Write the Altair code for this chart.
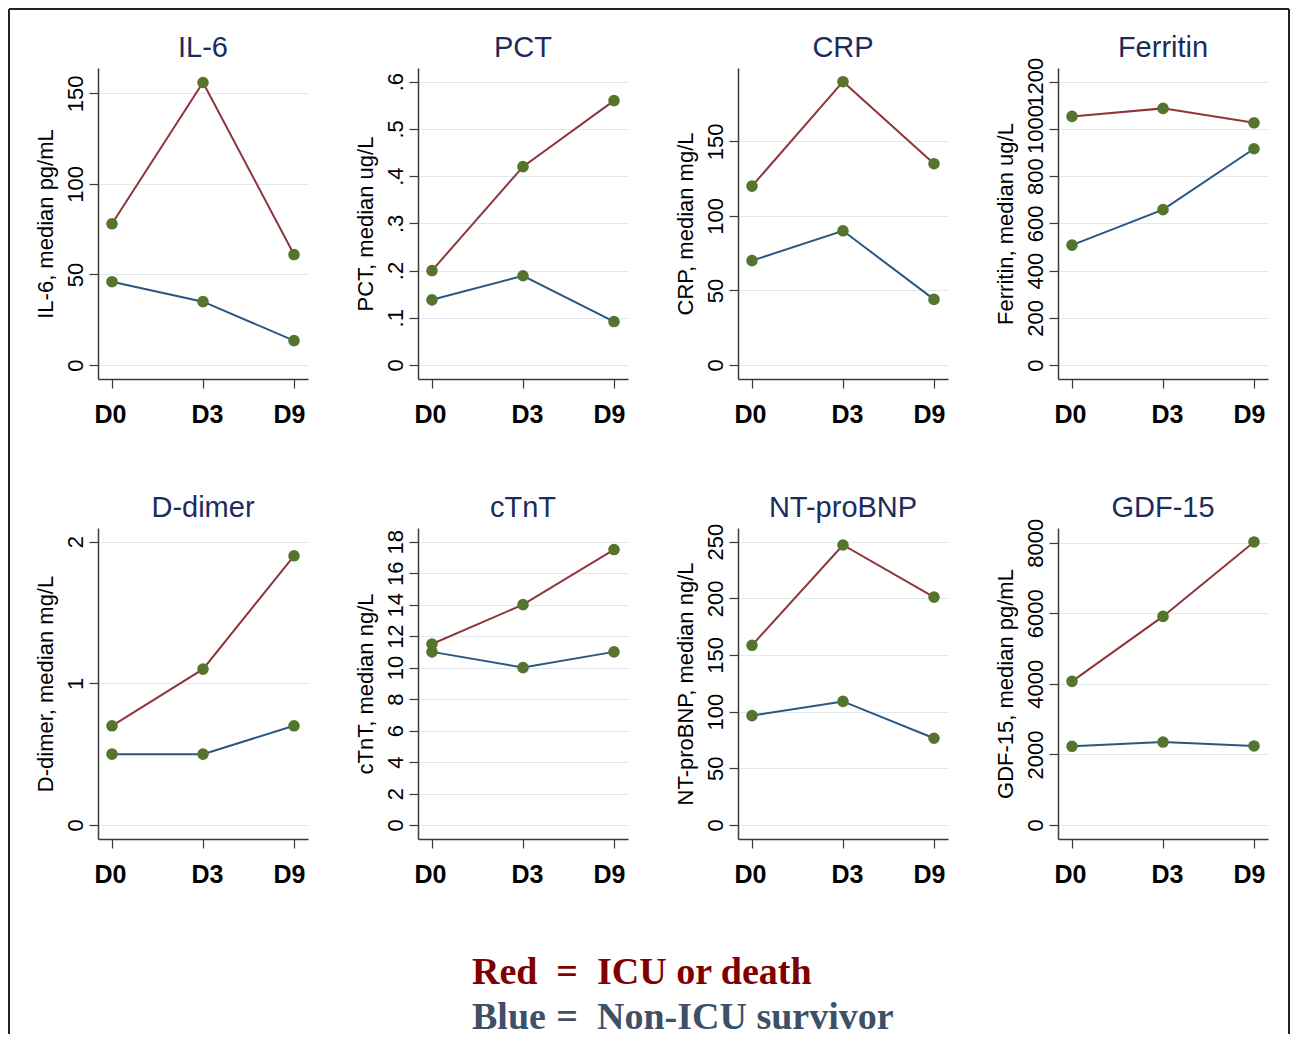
import altair as alt
import pandas as pd

# ---------------- data ----------------
days = ["D0", "D3", "D9"]
markers = ["IL-6", "PCT", "CRP", "Ferritin", "D-dimer", "cTnT", "NT-proBNP", "GDF-15"]
units = ["pg/mL", "ug/L", "mg/L", "ug/L", "mg/L", "ng/L", "ng/L", "pg/mL"]

icu_or_death = {
    "IL-6": [78, 156, 61],
    "PCT": [0.20, 0.42, 0.56],
    "CRP": [120, 190, 135],
    "Ferritin": [1053, 1087, 1026],
    "D-dimer": [0.70, 1.10, 1.90],
    "cTnT": [11.5, 14.0, 17.5],
    "NT-proBNP": [158.5, 247, 201],
    "GDF-15": [4070, 5910, 8020],
}
non_icu_survivor = {
    "IL-6": [46, 35, 13.5],
    "PCT": [0.138, 0.189, 0.092],
    "CRP": [70, 90, 44],
    "Ferritin": [508, 658, 916],
    "D-dimer": [0.50, 0.50, 0.70],
    "cTnT": [11.0, 10.0, 11.0],
    "NT-proBNP": [96.5, 109, 76.5],
    "GDF-15": [2230, 2350, 2240],
}
y_ticks = {
    "IL-6": [0, 50, 100, 150],
    "PCT": [0, 0.1, 0.2, 0.3, 0.4, 0.5, 0.6],
    "CRP": [0, 50, 100, 150],
    "Ferritin": [0, 200, 400, 600, 800, 1000, 1200],
    "D-dimer": [0, 1, 2],
    "cTnT": [0, 2, 4, 6, 8, 10, 12, 14, 16, 18],
    "NT-proBNP": [0, 50, 100, 150, 200, 250],
    "GDF-15": [0, 2000, 4000, 6000, 8000],
}
y_domains = {
    "IL-6": [-7.7, 164],
    "PCT": [-0.0297, 0.629],
    "CRP": [-9.4, 199.2],
    "Ferritin": [-59, 1258],
    "D-dimer": [-0.099, 2.096],
    "cTnT": [-0.89, 18.87],
    "NT-proBNP": [-12.4, 262],
    "GDF-15": [-397, 8416],
}
groups = ["ICU or death", "Non-ICU survivor"]

legend_keys = ["Red", "Blue"]
legend_desc = ["ICU or death", "Non-ICU survivor"]
legend_colors = ["#800000", "#3e5068"]

# ---------------- styles ----------------
RED = "#90353b"
BLUE = "#2a5782"
GREEN = "#55752f"
TITLE_COLOR = "#1c2c5e"
AXIS_COLOR = "#3a3a3a"
GRID_COLOR = "#dfeaee"
PW, PH = 210, 311
# keep all panel titles on one line even where a top tick label pokes above the plot
TITLE_DY = {"Ferritin": 11, "NT-proBNP": 5, "GDF-15": 10}


def panel(i, name):
    df = pd.DataFrame({
        "day": days * 2,
        "value": icu_or_death[name] + non_icu_survivor[name],
        "group": [groups[0]] * 3 + [groups[1]] * 3,
    })
    x = alt.X(
        "day:O", sort=days, title=None,
        scale=alt.Scale(type="point", padding=0.1538),
        axis=alt.Axis(
            labelAngle=0, labelFontSize=25, labelFontWeight="bold",
            labelColor="black", labelPadding=14, tickSize=9, grid=False,
            labelOffset={
                "condition": [
                    {"test": "datum.value === 'D3'", "value": 4},
                    {"test": "datum.value === 'D9'", "value": -5},
                ],
                "value": -2,
            },
        ),
    )
    yaxis_kwargs = dict(
        values=y_ticks[name], labelAngle=270, labelAlign="center",
        labelBaseline="bottom", labelFontSize=22, labelPadding=2,
        titleFontSize=22, titlePadding=7, tickSize=9, grid=True,
        labelOverlap=False, labelColor="black",
    )
    if name == "PCT":
        yaxis_kwargs["labelExpr"] = (
            "datum.value == 0 ? '0' : replace(format(datum.value, '.1f'), '0.', '.')"
        )
    else:
        yaxis_kwargs["format"] = "d"
    y = alt.Y(
        "value:Q", title=f"{name}, median {units[i]}",
        scale=alt.Scale(domain=y_domains[name], nice=False, zero=False),
        axis=alt.Axis(**yaxis_kwargs),
    )
    lines = alt.Chart(df).mark_line(strokeWidth=2).encode(
        x=x, y=y,
        color=alt.Color("group:N", scale=alt.Scale(domain=groups, range=[RED, BLUE]), legend=None),
    )
    pts = alt.Chart(df).mark_circle(size=135, color=GREEN, opacity=1).encode(x=x, y=y)
    return alt.layer(lines, pts).properties(
        width=PW, height=PH,
        title=alt.TitleParams(
            name, fontSize=29, color=TITLE_COLOR, anchor="middle",
            frame="group", offset=5, fontWeight="normal",
            dy=TITLE_DY.get(name, 0),
        ),
    )


panels = [panel(i, m) for i, m in enumerate(markers)]

# ---- ninth (empty) cell holding the legend text and the outer frame ----
fdf = pd.DataFrame({"k": [0]})
fr = alt.Chart(fdf).mark_rule(color="#222222", strokeWidth=2)
f_left = fr.encode(x=alt.value(-89), y=alt.value(-979), y2=alt.value(46))
f_top = fr.encode(x=alt.value(-89), x2=alt.value(1191), y=alt.value(-979))
f_right = fr.encode(x=alt.value(1191), y=alt.value(-979), y2=alt.value(46))

leg_df = pd.DataFrame({"key": legend_keys, "desc": legend_desc, "col": legend_colors})
lbase = alt.Chart(leg_df).encode(
    y=alt.Y("key:N", sort=None, axis=None,
            scale=alt.Scale(type="point", range=[-15, 30], padding=0)),
    color=alt.Color("col:N", scale=None, legend=None),
)
tstyle = dict(baseline="middle", font="Liberation Serif", fontSize=38, fontWeight="bold")
t1 = lbase.mark_text(align="left", **tstyle).encode(x=alt.value(374), text="key:N")
t2 = lbase.mark_text(align="center", **tstyle).encode(x=alt.value(469), text=alt.value("="))
t3 = lbase.mark_text(align="left", **tstyle).encode(x=alt.value(499), text="desc:N")
extra = alt.layer(f_left, f_top, f_right, t1, t2, t3).properties(width=PW, height=10)

chart = alt.concat(
    *panels, extra, columns=4, spacing={"row": 149, "column": 110}, bounds="flush"
).properties(
    padding=0, background="white"
).configure(
    font="Liberation Sans"
).configure_view(
    stroke=None
).configure_axis(
    domainColor=AXIS_COLOR, domainWidth=1.5, tickColor=AXIS_COLOR, tickWidth=1.2,
    gridColor=GRID_COLOR, gridWidth=1.2, titleColor="black", titleFontWeight="normal",
    labelFont="Liberation Sans", titleFont="Liberation Sans",
)

chart.save("out.html", embed_options={"renderer": "svg", "actions": False})
